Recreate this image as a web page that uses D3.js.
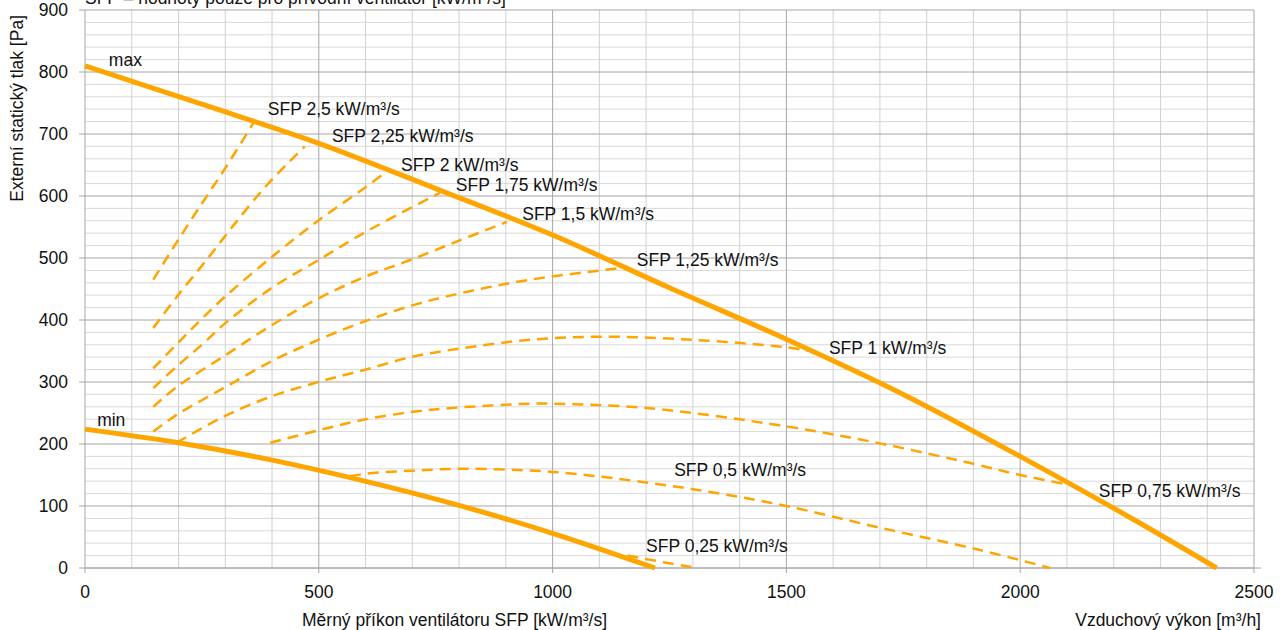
<!DOCTYPE html>
<html>
<head>
<meta charset="utf-8">
<script src="https://cdn.jsdelivr.net/npm/d3@7"></script>
<style>
  body { margin: 0; background: #fff; }
  svg text { font-family: "Liberation Sans", Arial, sans-serif; fill: #111; font-size: 17.5px; }
</style>
</head>
<body>
<div id="chart"></div>
<script>
var svgWidth = 1287;
var svgHeight = 630;

var margin = { top: 10, right: 33, bottom: 62, left: 85 };
var width = svgWidth - margin.left - margin.right;
var height = svgHeight - margin.top - margin.bottom;

// Data: [airflow m3/h, pressure Pa]
var xTicks = [0, 500, 1000, 1500, 2000, 2500];
var yTicks = [0, 100, 200, 300, 400, 500, 600, 700, 800, 900];

var maxCurve = [[0, 810], [250, 748], [500, 685], [750, 612], [1000, 537], [1250, 452],
    [1500, 369], [1750, 280], [2000, 180], [2250, 75], [2420, 0]];
var minCurve = [[0, 224], [200, 202], [400, 174], [583, 143], [800, 101], [1000, 56], [1219, 0]];

var sfpNames = ["2,5", "2,25", "2", "1,75", "1,5", "1,25", "1", "0,75", "0,5", "0,25"];
var sfpCurves = [
    [[146, 465], [175, 500], [200, 530], [250, 588], [300, 645], [362, 720]],
    [[146, 387], [196, 437], [260, 497], [320, 555], [380, 610], [430, 650], [470, 680]],
    [[146, 322], [200, 364], [250, 402], [300, 438], [400, 502], [500, 561], [600, 614], [641, 637]],
    [[146, 290], [196, 325], [250, 360], [300, 395], [400, 452], [500, 497], [600, 542], [759, 605]],
    [[146, 260], [196, 292], [296, 341], [400, 392], [500, 435], [600, 470], [700, 498], [800, 528], [902, 558]],
    [[146, 220], [196, 247], [296, 290], [403, 335], [499, 368], [595, 397], [702, 424], [802, 443], [952, 465], [1148, 484]],
    [[196, 202], [296, 244], [396, 276], [499, 300], [595, 319], [702, 341], [802, 354], [952, 368], [1100, 373], [1300, 368], [1500, 356], [1550, 350]],
    [[396, 202], [499, 222], [595, 239], [702, 252], [802, 259], [952, 265], [1000, 265], [1202, 258], [1503, 228], [1700, 201], [1900, 168], [2000, 150], [2106, 134]],
    [[567, 148], [600, 152], [700, 157], [816, 160], [1000, 155], [1200, 138], [1350, 121], [1500, 100], [1700, 65], [1914, 29], [2064, 0]],
    [[1160, 20], [1240, 9], [1310, 0]]
];

// label anchors in data units (start of text, baseline)
var sfpLabelAt = [[391, 731], [528, 687], [676, 640], [793, 608], [935, 561],
    [1180, 487], [1591, 345], [2168, 114], [1260, 148], [1200, 26]];
var maxLabelAt = [51, 810];
var minLabelAt = [26, 229];

var titleText = "SFP – hodnoty pouze pro přívodní ventilátor [kW/m³/s]";
var yTitle = "Externí statický tlak [Pa]";
var xTitleLeft = "Měrný příkon ventilátoru SFP [kW/m³/s]";
var xTitleRight = "Vzduchový výkon [m³/h]";

var orange = "#FFA500";

var svg = d3.select("#chart")
    .append("svg")
    .attr("width", svgWidth)
    .attr("height", svgHeight);

var chartGroup = svg.append("g")
    .attr("transform", `translate(${margin.left}, ${margin.top})`);

var xScale = d3.scaleLinear().domain([0, 2500]).range([0, width]);
var yScale = d3.scaleLinear().domain([0, 900]).range([height, 0]);

// minor grid
chartGroup.append("g")
    .selectAll("line")
    .data(d3.range(0, 901, 20).filter(d => d % 100 !== 0))
    .enter().append("line")
    .attr("x1", 0).attr("x2", width)
    .attr("y1", d => yScale(d)).attr("y2", d => yScale(d))
    .attr("stroke", "#d9d9d9").attr("stroke-width", 1);

chartGroup.append("g")
    .selectAll("line")
    .data(d3.range(0, 2501, 100).filter(d => d % 500 !== 0))
    .enter().append("line")
    .attr("x1", d => xScale(d)).attr("x2", d => xScale(d))
    .attr("y1", 0).attr("y2", height)
    .attr("stroke", "#d0d0d0").attr("stroke-width", 1);

// major grid
chartGroup.append("g")
    .selectAll("line")
    .data(yTicks)
    .enter().append("line")
    .attr("x1", -6).attr("x2", width)
    .attr("y1", d => yScale(d)).attr("y2", d => yScale(d))
    .attr("stroke", "#a6a6a6").attr("stroke-width", 1);

chartGroup.append("g")
    .selectAll("line")
    .data(xTicks)
    .enter().append("line")
    .attr("x1", d => xScale(d)).attr("x2", d => xScale(d))
    .attr("y1", 0).attr("y2", height + 5)
    .attr("stroke", "#a6a6a6").attr("stroke-width", 1);

chartGroup.append("line")
    .attr("x1", 0).attr("x2", width + 7)
    .attr("y1", height).attr("y2", height)
    .attr("stroke", "#a6a6a6").attr("stroke-width", 1);

// tick labels
chartGroup.append("g")
    .selectAll("text")
    .data(yTicks)
    .enter().append("text")
    .attr("x", -17)
    .attr("y", d => yScale(d))
    .attr("dy", "0.35em")
    .attr("text-anchor", "end")
    .text(d => d);

chartGroup.append("g")
    .selectAll("text")
    .data(xTicks)
    .enter().append("text")
    .attr("x", d => xScale(d))
    .attr("y", height + 30)
    .attr("text-anchor", "middle")
    .text(d => d);

var line = d3.line()
    .x(d => xScale(d[0]))
    .y(d => yScale(d[1]))
    .curve(d3.curveCatmullRom.alpha(0.5));

// SFP dashed curves
chartGroup.append("g")
    .selectAll("path")
    .data(sfpCurves)
    .enter().append("path")
    .attr("d", line)
    .attr("fill", "none")
    .attr("stroke", orange)
    .attr("stroke-width", 2.5)
    .attr("stroke-dasharray", "11,7");

// max / min
[maxCurve, minCurve].forEach(function (c) {
    chartGroup.append("path")
        .attr("d", line(c))
        .attr("fill", "none")
        .attr("stroke", orange)
        .attr("stroke-width", 5);
});

// labels
chartGroup.append("g")
    .selectAll("text")
    .data(sfpNames)
    .enter().append("text")
    .attr("x", (d, i) => xScale(sfpLabelAt[i][0]))
    .attr("y", (d, i) => yScale(sfpLabelAt[i][1]))
    .text(d => `SFP ${d} kW/m³/s`);

chartGroup.append("text")
    .attr("x", xScale(maxLabelAt[0])).attr("y", yScale(maxLabelAt[1]))
    .text("max");

chartGroup.append("text")
    .attr("x", xScale(minLabelAt[0])).attr("y", yScale(minLabelAt[1]))
    .text("min");

// titles (top title is clipped by the page edge, as in the original)
svg.append("text")
    .attr("x", margin.left)
    .attr("y", 4)
    .text(titleText);

svg.append("text")
    .attr("transform", "rotate(-90)")
    .attr("x", -15)
    .attr("y", 23)
    .attr("text-anchor", "end")
    .text(yTitle);

svg.append("text")
    .attr("x", 302)
    .attr("y", 626)
    .text(xTitleLeft);

svg.append("text")
    .attr("x", 1261)
    .attr("y", 626)
    .attr("text-anchor", "end")
    .text(xTitleRight);
</script>
</body>
</html>
